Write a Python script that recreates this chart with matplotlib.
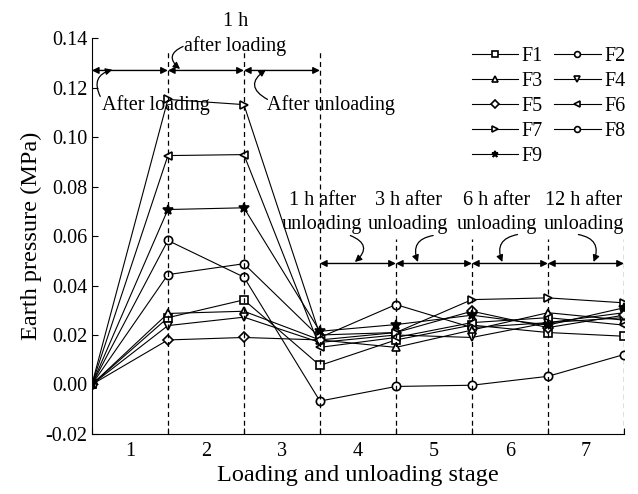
import numpy as np
import matplotlib
matplotlib.use('Agg')
import matplotlib.pyplot as plt

plt.rcParams['font.family'] = ['Liberation Serif', 'DejaVu Serif']

# stage boundaries where readings were taken
stage_x = [0.5, 1.5, 2.5, 3.5, 4.5, 5.5, 6.5, 7.5]
stage_labels = ['1', '2', '3', '4', '5', '6', '7']

F1 = [0, 0.0270, 0.0342, 0.0077, 0.0180, 0.0240, 0.0210, 0.0195]
F2 = [0, 0.0444, 0.0488, 0.0190, 0.0323, 0.0230, 0.0250, 0.0270]
F3 = [0, 0.0287, 0.0296, 0.0180, 0.0150, 0.0220, 0.0290, 0.0260]
F4 = [0, 0.0238, 0.0272, 0.0170, 0.0200, 0.0190, 0.0250, 0.0290]
F5 = [0, 0.0180, 0.0190, 0.0180, 0.0210, 0.0296, 0.0230, 0.0280]
F6 = [0, 0.0925, 0.0929, 0.0150, 0.0190, 0.0250, 0.0270, 0.0240]
F7 = [0, 0.1152, 0.1131, 0.0200, 0.0210, 0.0343, 0.0350, 0.0330]
F8 = [0, 0.0582, 0.0434, -0.0067, -0.0008, -0.0003, 0.0033, 0.0121]
F9 = [0, 0.0707, 0.0714, 0.0215, 0.0242, 0.0280, 0.0240, 0.0310]

series = [('F1', F1, 's'), ('F2', F2, 'o'), ('F3', F3, '^'), ('F4', F4, 'v'),
          ('F5', F5, 'D'), ('F6', F6, '<'), ('F7', F7, '>'), ('F8', F8, 'o'),
          ('F9', F9, '*')]

fig = plt.figure(figsize=(6.38, 4.94), dpi=100)
ax = fig.add_axes([0.144, 0.1215, 0.834, 0.8015])

lines = {}
for name, vals, mk in series:
    ms = 6
    fc = 'white'
    if mk == 'D':
        ms = 5.5
    if mk == '*':
        ms, fc = 7, 'k'
    ln, = ax.plot(stage_x, vals, color='k', lw=0.8, marker=mk, ms=ms,
                  mfc=fc, mec='k', mew=1.2, label=name)
    lines[name] = ln

# dashed stage boundaries
for xv in stage_x[1:4]:
    ax.plot([xv, xv], [-0.02, 0.1345], ls=(0, (4, 3)), color='k', lw=0.9)
for xv in stage_x[4:]:
    ax.plot([xv, xv], [-0.02, 0.0586], ls=(0, (4, 3)), color='k', lw=0.9)

arr = dict(arrowstyle='<|-|>', mutation_scale=10, lw=1.0, color='k',
           shrinkA=0, shrinkB=0)
for a, b in zip(stage_x[0:3], stage_x[1:4]):
    ax.annotate('', xy=(a, 0.1269), xytext=(b, 0.1269), arrowprops=arr)
for a, b in zip(stage_x[3:7], stage_x[4:8]):
    ax.annotate('', xy=(a, 0.0489), xytext=(b, 0.0489), arrowprops=arr)

fs = 14.5
ax.text(2.386, 0.1466, '1 h', ha='center', va='center', fontsize=fs, clip_on=False)
ax.text(2.386, 0.1366, 'after loading', ha='center', va='center', fontsize=fs)
ax.text(0.636, 0.1131, 'After loading', ha='left', va='center', fontsize=fs)
ax.text(2.807, 0.1131, 'After unloading', ha='left', va='center', fontsize=fs)

for xc, t in [(3.53, '1 h after\nunloading'), (4.66, '3 h after\nunloading'),
              (5.83, '6 h after\nunloading'), (6.97, '12 h after\nunloading')]:
    ax.text(xc, 0.0695, t, ha='center', va='center', fontsize=fs,
            linespacing=1.3)

def curl(x0, y0, x1, y1, rad):
    ax.annotate('', xy=(x1, y1), xytext=(x0, y0),
                arrowprops=dict(arrowstyle='-|>', mutation_scale=10, lw=0.9,
                                color='k', shrinkA=0, shrinkB=0,
                                connectionstyle='arc3,rad=%s' % rad))

curl(0.61, 0.1164, 0.77, 0.1272, -0.6)
curl(1.70, 0.1366, 1.66, 0.1275, 0.8)
curl(2.81, 0.1152, 2.79, 0.1272, -0.8)
curl(3.90, 0.0602, 3.96, 0.0495, -0.8)
curl(4.99, 0.0602, 4.79, 0.0495, 0.6)
curl(6.10, 0.0606, 5.90, 0.0495, 0.6)
curl(6.90, 0.0606, 7.10, 0.0495, -0.6)

ax.set_xlim(0.5, 7.5)
ax.set_ylim(-0.02, 0.14)
ax.set_xticks(stage_x)
ax.set_xticklabels([])
ax.set_xticks(np.arange(1, 8), minor=True)
ax.set_xticklabels(stage_labels, minor=True)
ax.tick_params(axis='x', which='minor', length=0, labelsize=fs, pad=6)
ax.tick_params(axis='x', which='major', direction='in', length=4)
yt = np.arange(-0.02, 0.141, 0.02)
ax.set_yticks(yt)
ax.set_yticklabels(['%.2f' % v for v in yt])
ax.tick_params(axis='y', direction='in', length=4, labelsize=fs, pad=3)
ax.spines['top'].set_visible(False)
ax.spines['right'].set_visible(False)
ax.set_xlabel('Loading and unloading stage', fontsize=17.5, labelpad=3)
ax.set_ylabel('Earth pressure (MPa)', fontsize=17.5, labelpad=3)

order = ['F1', 'F3', 'F5', 'F7', 'F9', 'F2', 'F4', 'F6', 'F8']
leg = ax.legend([lines[k] for k in order], order, ncol=2, frameon=False,
                fontsize=fs, loc='upper left',
                bbox_to_anchor=(0.717, 0.934), bbox_transform=fig.transFigure,
                handlelength=2.3, handletextpad=0.2, columnspacing=0.55,
                labelspacing=0.3, markerscale=0.7, borderpad=0.2)

fig.savefig('out.png', dpi=100)
